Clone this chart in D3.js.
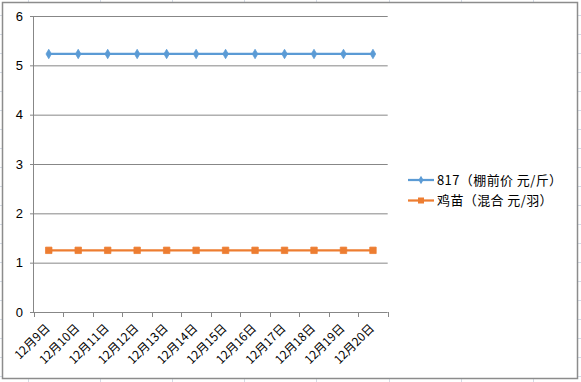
<!DOCTYPE html>
<html><head><meta charset="utf-8">
<script src="https://cdn.jsdelivr.net/npm/d3@7"></script>
<style>
html,body{margin:0;padding:0;background:#fff;}
svg{display:block;}
</style></head>
<body>
<svg id="chart" width="581" height="382"></svg>
<script>
const categories = ["12月9日","12月10日","12月11日","12月12日","12月13日","12月14日","12月15日","12月16日","12月17日","12月18日","12月19日","12月20日"];
const series817 = [5.23,5.23,5.23,5.23,5.23,5.23,5.23,5.23,5.23,5.23,5.23,5.23];
const seriesChick = [1.25,1.25,1.25,1.25,1.25,1.25,1.25,1.25,1.25,1.25,1.25,1.25];
const seriesNames = ["817（棚前价 元/斤）","鸡苗（混合 元/羽）"];
const yTicks = [0,1,2,3,4,5,6];

const W = 581, H = 382;
const svg = d3.select("#chart");
const cjk = "'Noto Sans CJK SC', 'Liberation Sans', sans-serif";

// spreadsheet cell grid behind chart
const sheet = svg.append("g").attr("stroke","#d4dbe6").attr("stroke-width",1);
for (let x = 27.5; x < W; x += 72.2) sheet.append("line").attr("x1",Math.round(x)+0.5).attr("x2",Math.round(x)+0.5).attr("y1",0).attr("y2",H);
for (let y = 14.5; y < H; y += 19) sheet.append("line").attr("y1",Math.round(y)+0.5).attr("y2",Math.round(y)+0.5).attr("x1",0).attr("x2",W);

// chart area
svg.append("rect").attr("x",2.5).attr("y",2.5).attr("width",575).attr("height",376)
  .attr("fill","#fff").attr("stroke","#8c8c8c").attr("stroke-width",1.5);

const plot = {l:34, r:387.7, t:16, b:312};
const x = d3.scaleBand().domain(categories).range([plot.l, plot.r]).padding(0);
const y = d3.scaleLinear().domain([0,6]).range([plot.b, plot.t]);

// gridlines
const grid = svg.append("g").attr("transform",`translate(${plot.l},0)`)
  .call(d3.axisLeft(y).tickValues(yTicks.filter(v=>v>0)).tickSize(-(plot.r-plot.l)).tickFormat(""));
grid.select(".domain").remove();
grid.selectAll("line").attr("stroke","#878787").attr("stroke-width",1);

// y axis
const yAx = svg.append("g").attr("transform",`translate(${plot.l},0)`)
  .call(d3.axisLeft(y).tickValues(yTicks).tickSize(4).tickPadding(7).tickFormat(d3.format("d")));
yAx.select(".domain").attr("stroke","#878787").attr("d",`M-0.5,${plot.t}V${plot.b}`);
yAx.selectAll("line").attr("stroke","#878787");
yAx.selectAll("text").attr("font-family","'Liberation Sans', Arial, sans-serif").attr("font-size",13).attr("fill","#000");

// x axis
const xAx = svg.append("g").attr("transform",`translate(0,${plot.b})`)
  .call(d3.axisBottom(x).tickSize(0).tickPadding(0));
xAx.select(".domain").attr("stroke","#878787").attr("d",`M${plot.l},0.5H${plot.r}`);
xAx.selectAll(".tick text")
  .attr("font-family",cjk).attr("font-size",12).attr("fill","#000")
  .attr("text-anchor","end").attr("dy",0)
  .attr("transform","translate(2,17) rotate(-45)");
// category boundary ticks
const bounds = categories.map(c => x(c)).concat([plot.r]);
xAx.selectAll(".btick").data(bounds).join("line").attr("class","btick")
  .attr("x1",d=>Math.round(d)+0.5).attr("x2",d=>Math.round(d)+0.5).attr("y1",0).attr("y2",5)
  .attr("stroke","#878787");

const cx = d => x(d) + x.bandwidth()/2;
const blue = "#5b9bd5", orange = "#ed7d31";

function drawSeries(vals, color, sym, size) {
  const data = categories.map((c,i)=>({c, v: vals[i]}));
  svg.append("path").datum(data)
    .attr("fill","none").attr("stroke",color).attr("stroke-width",2.25)
    .attr("d", d3.line().x(d=>cx(d.c)).y(d=>y(d.v)));
  svg.append("g").selectAll("path").data(data).join("path")
    .attr("transform", d=>`translate(${cx(d.c)},${y(d.v)})`)
    .attr("d", d3.symbol().type(sym).size(size))
    .attr("fill", color).attr("stroke", color).attr("stroke-width",0.75);
}
drawSeries(series817, blue, d3.symbolDiamond, 26);
drawSeries(seriesChick, orange, d3.symbolSquare, 42);

// legend
const legend = svg.append("g");
const legItems = [{name: seriesNames[0], color: blue, sym: d3.symbolDiamond, size: 22, y: 180},
                  {name: seriesNames[1], color: orange, sym: d3.symbolSquare, size: 36, y: 200.5}];
legItems.forEach(it => {
  legend.append("line").attr("x1",408).attr("x2",434).attr("y1",it.y).attr("y2",it.y)
    .attr("stroke",it.color).attr("stroke-width",2.25);
  legend.append("path").attr("transform",`translate(421,${it.y})`)
    .attr("d", d3.symbol().type(it.sym).size(it.size)).attr("fill",it.color);
  legend.append("text").attr("x",437).attr("y",it.y).attr("dy","0.36em")
    .attr("font-family",cjk).attr("font-size",13).attr("letter-spacing",0.4)
    .attr("fill","#000").attr("xml:space","preserve").text(it.name);
});
</script>
</body></html>
